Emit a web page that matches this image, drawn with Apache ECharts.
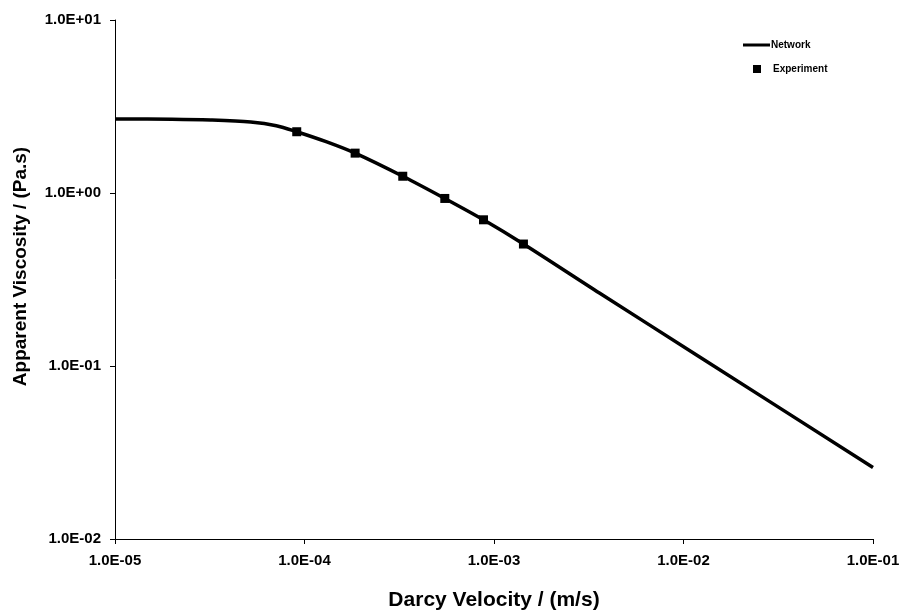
<!DOCTYPE html>
<html>
<head>
<meta charset="utf-8">
<script src="https://cdn.jsdelivr.net/npm/echarts@6/dist/echarts.min.js"></script>
<style>
html,body{margin:0;padding:0;background:#fff;}
#chart{width:904px;height:615px;}
</style>
</head>
<body>
<div id="chart"></div>
<script>
// Data
const networkVelocity = [1.0e-5, 2.0e-5, 3.2e-5, 5.2e-5, 7.1e-5, 9.1e-5, 1.3e-4, 1.85e-4, 3.3e-4, 5.5e-4, 8.8e-4, 1.43e-3, 3.6e-3, 1.2e-2, 1.0e-1];
const networkViscosity = [2.68, 2.67, 2.64, 2.57, 2.45, 2.26, 1.98, 1.70, 1.25, 0.93, 0.70, 0.507, 0.264, 0.114, 0.0259];
const experimentVelocity = [9.1e-5, 1.85e-4, 3.3e-4, 5.5e-4, 8.8e-4, 1.43e-3];
const experimentViscosity = [2.26, 1.70, 1.25, 0.93, 0.70, 0.507];
const xTickLabels = ['1.0E-05', '1.0E-04', '1.0E-03', '1.0E-02', '1.0E-01'];
const yTickLabels = ['1.0E-02', '1.0E-01', '1.0E+00', '1.0E+01'];
const xTitle = 'Darcy Velocity / (m/s)';
const yTitle = 'Apparent Viscosity / (Pa.s)';
const seriesNames = ['Network', 'Experiment'];

const FONT = '"Liberation Sans", Arial, sans-serif';
const chart = echarts.init(document.getElementById('chart'), null, {renderer: 'canvas'});

function pairs(xs, ys) { return xs.map((x, i) => [x, ys[i]]); }

const option = {
  animation: false,
  backgroundColor: '#fff',
  grid: {left: 115, right: 31, top: 20, bottom: 76, containLabel: false, outerBoundsMode: 'none'},
  xAxis: {
    type: 'log', logBase: 10, min: 1e-5, max: 1e-1,
    name: xTitle, nameLocation: 'middle', nameGap: 51,
    nameTextStyle: {fontFamily: FONT, fontWeight: 'bold', fontSize: 21, color: '#000'},
    axisLine: {show: true, lineStyle: {color: '#000', width: 1}},
    axisTick: {show: true, inside: false, length: 5, lineStyle: {color: '#000'}},
    minorTick: {show: false},
    splitLine: {show: false},
    axisLabel: {
      margin: 14, color: '#000', fontFamily: FONT, fontWeight: 'bold', fontSize: 15,
      formatter: v => xTickLabels[Math.round(Math.log10(v)) + 5] || ''
    }
  },
  yAxis: {
    type: 'log', logBase: 10, min: 1e-2, max: 10,
    name: yTitle, nameLocation: 'middle', nameGap: 57, nameRotate: 90,
    nameTextStyle: {fontFamily: FONT, fontWeight: 'bold', fontSize: 19, color: '#000', padding: [0, 0, 28, 26]},
    axisLine: {show: true, lineStyle: {color: '#000', width: 1}},
    axisTick: {show: true, inside: false, length: 5, lineStyle: {color: '#000'}},
    minorTick: {show: false},
    splitLine: {show: false},
    axisLabel: {
      margin: 14, color: '#000', fontFamily: FONT, fontWeight: 'bold', fontSize: 15,
      formatter: v => yTickLabels[Math.round(Math.log10(v)) + 2] || ''
    }
  },
  legend: [
    {
      data: [seriesNames[0]], left: 743, top: 40, orient: 'vertical', padding: 0,
      icon: 'rect', itemWidth: 27, itemHeight: 3,
      textStyle: {fontFamily: FONT, fontWeight: 'bold', fontSize: 10, color: '#000', padding: [0, 0, 0, -4]}
    },
    {
      data: [seriesNames[1]], left: 753, top: 64, orient: 'vertical', padding: 0,
      icon: 'rect', itemWidth: 8, itemHeight: 8,
      itemStyle: {opacity: 1, color: '#000'},
      textStyle: {fontFamily: FONT, fontWeight: 'bold', fontSize: 10, color: '#000', padding: [0, 0, 0, 7]}
    }
  ],
  series: [
    {
      name: seriesNames[0], type: 'line', data: pairs(networkVelocity, networkViscosity),
      showSymbol: false, symbol: 'none', smooth: 0.3,
      lineStyle: {color: '#000', width: 3.5}, itemStyle: {color: '#000'}, z: 2
    },
    {
      name: seriesNames[1], type: 'scatter', data: pairs(experimentVelocity, experimentViscosity),
      symbol: 'rect', symbolSize: 9, itemStyle: {color: '#000', opacity: 1}, z: 3
    }
  ]
};
chart.setOption(option);
</script>
</body>
</html>
